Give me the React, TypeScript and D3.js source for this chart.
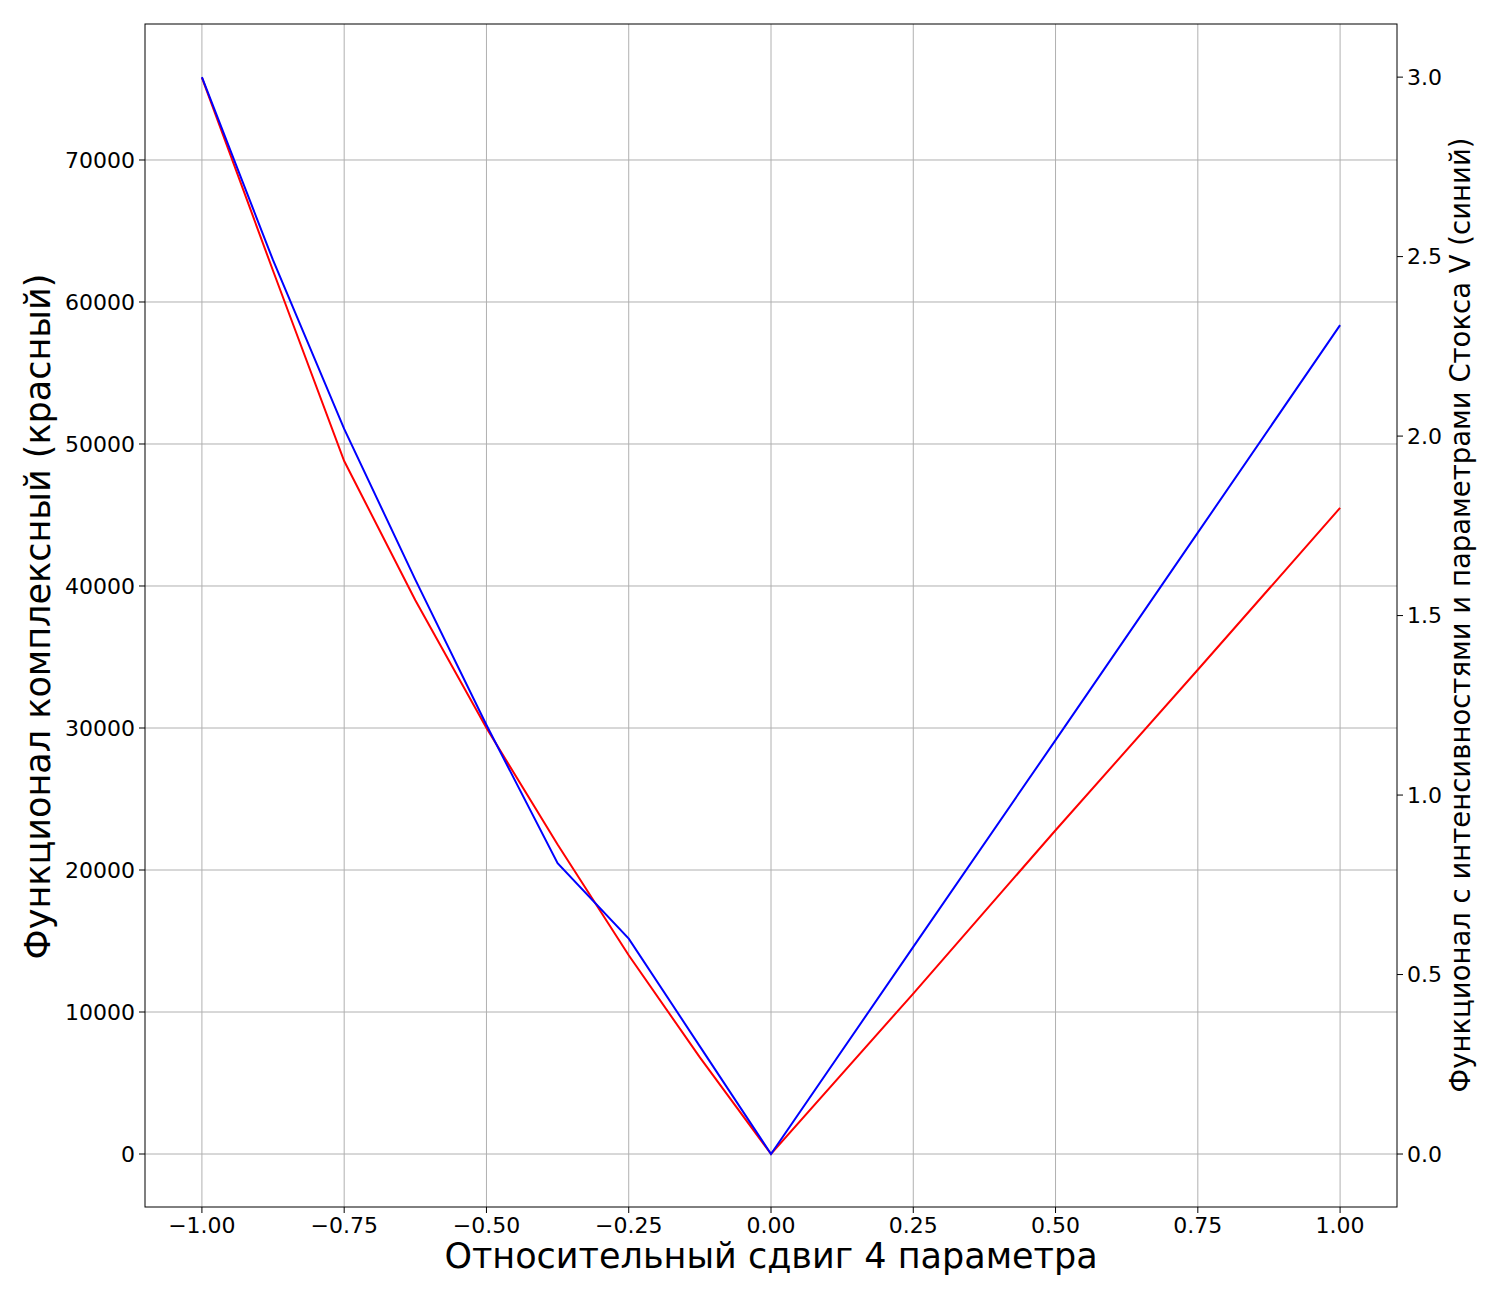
import * as React from "react";
import * as d3 from "d3";

// red: complex functional (left axis)
const redX = [-1, -0.875, -0.75, -0.625, -0.5, -0.375, -0.25, -0.125, 0, 0.25, 0.5, 0.75, 1];
const redY = [75800, 62200, 48800, 39000, 30000, 21800, 14000, 6800, 0, 11300, 22800, 34100, 45500];
// blue: Stokes V functional (right axis)
const blueX = [-1, -0.875, -0.75, -0.625, -0.5, -0.375, -0.25, -0.125, 0, 0.25, 0.5, 0.75, 1];
const blueY = [3.0, 2.49, 2.02, 1.6, 1.195, 0.81, 0.6, 0.3, 0, 0.577, 1.153, 1.731, 2.309];

const xTicks = [-1, -0.75, -0.5, -0.25, 0, 0.25, 0.5, 0.75, 1];
const leftTicks = [0, 10000, 20000, 30000, 40000, 50000, 60000, 70000];
const rightTicks = [0, 0.5, 1, 1.5, 2, 2.5, 3];

const W = 1500, H = 1300;
const L = 145, R = 1397, T = 24, B = 1207;
const font = "DejaVu Sans, sans-serif";

export default function App() {
  const x = d3.scaleLinear().domain([-1.1, 1.1]).range([L, R]);
  const yl = d3.scaleLinear().domain([-3732, 79577]).range([B, T]);
  const yr = d3.scaleLinear().domain([-0.1476, 3.148]).range([B, T]);
  const lineRed = d3.line<number>().x((_, i) => x(redX[i])).y((d) => yl(d)).curve(d3.curveLinear);
  const lineBlue = d3.line<number>().x((_, i) => x(blueX[i])).y((d) => yr(d)).curve(d3.curveLinear);
  const fmt = (v: number) => (v < 0 ? "\u2212" : "") + Math.abs(v).toFixed(2);

  return (
    <svg width={W} height={H} style={{ position: "absolute", left: 0, top: 0, fontFamily: font }}>
      <rect width={W} height={H} fill="#fff" />
      {xTicks.map((t) => (
        <g key={"x" + t}>
          <line x1={x(t)} x2={x(t)} y1={T} y2={B} stroke="#b0b0b0" strokeWidth={1} />
          <line x1={x(t)} x2={x(t)} y1={B} y2={B + 6} stroke="#000" />
          <text x={x(t)} y={B + 26} fontSize={22} textAnchor="middle">{fmt(t)}</text>
        </g>
      ))}
      {leftTicks.map((t) => (
        <g key={"l" + t}>
          <line x1={L} x2={R} y1={yl(t)} y2={yl(t)} stroke="#b0b0b0" strokeWidth={1} />
          <line x1={L - 6} x2={L} y1={yl(t)} y2={yl(t)} stroke="#000" />
          <text x={L - 10} y={yl(t)} dy="0.35em" fontSize={22} textAnchor="end">{t}</text>
        </g>
      ))}
      {rightTicks.map((t) => (
        <g key={"r" + t}>
          <line x1={R} x2={R + 6} y1={yr(t)} y2={yr(t)} stroke="#000" />
          <text x={R + 10} y={yr(t)} dy="0.35em" fontSize={22}>{t.toFixed(1)}</text>
        </g>
      ))}
      <path d={lineRed(redY) ?? ""} fill="none" stroke="red" strokeWidth={2} />
      <path d={lineBlue(blueY) ?? ""} fill="none" stroke="blue" strokeWidth={2} />
      <rect x={L} y={T} width={R - L} height={B - T} fill="none" stroke="#000" strokeWidth={1} />
      <text x={(L + R) / 2} y={1268} fontSize={35} textAnchor="middle">Относительный сдвиг 4 параметра</text>
      <text transform={`translate(50,${(T + B) / 2 + 1}) rotate(-90)`} fontSize={35} textAnchor="middle">Функционал комплексный (красный)</text>
      <text transform={`translate(1470,615) rotate(-90)`} fontSize={27.5} textAnchor="middle">Функционал с интенсивностями и параметрами Стокса V (синий)</text>
    </svg>
  );
}
